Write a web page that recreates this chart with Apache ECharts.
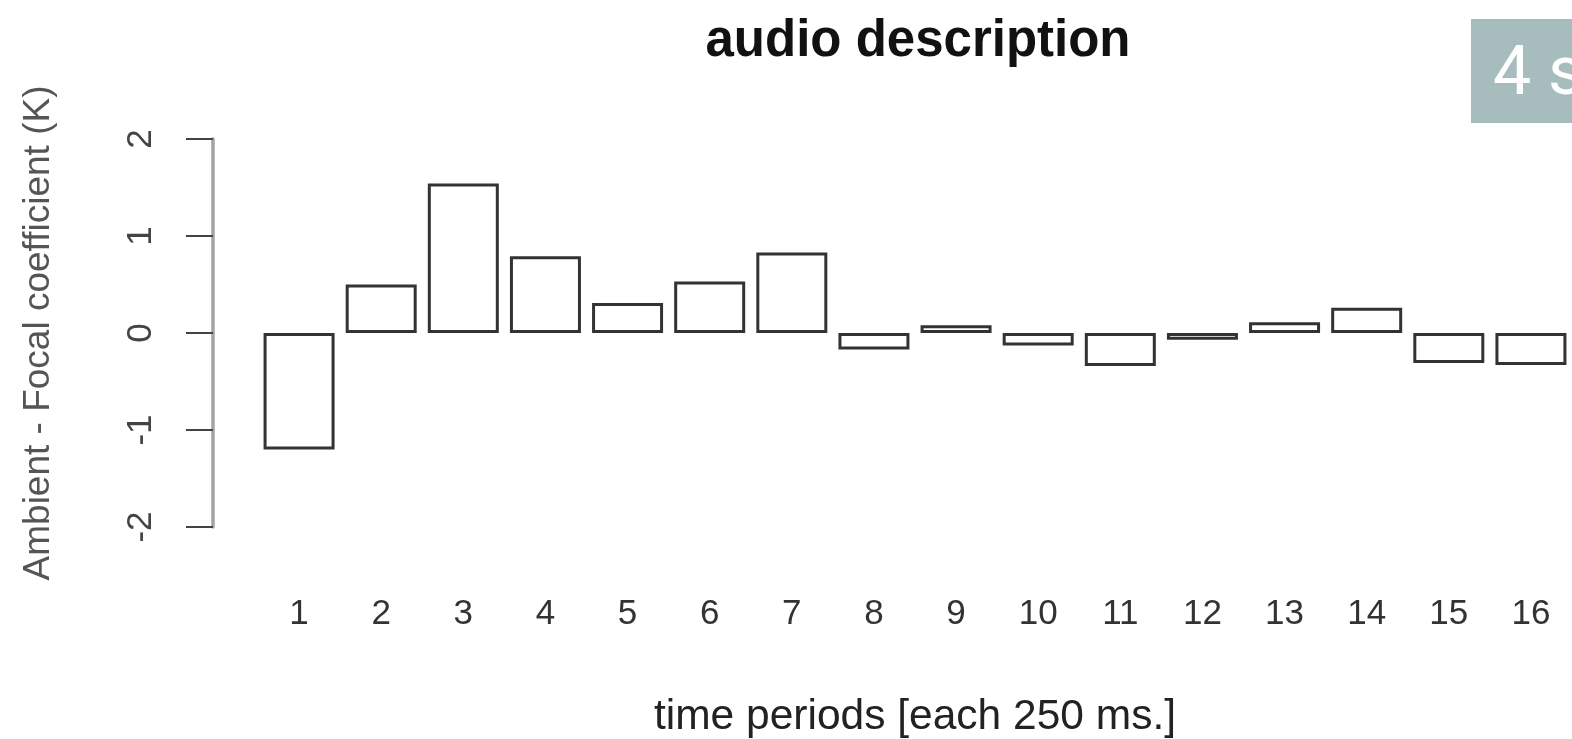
<!DOCTYPE html>
<html>
<head>
<meta charset="utf-8">
<title>audio description</title>
<script src="https://cdn.jsdelivr.net/npm/echarts@6/dist/echarts.min.js"></script>
<style>
  html, body { margin: 0; padding: 0; background: #fff; overflow: hidden; }
  #chart { width: 1572px; height: 739px; }
</style>
</head>
<body>
<div id="chart"></div>
<script>
// Time periods (each 250 ms) and the ambient-minus-focal coefficient per period
const periods = ['1', '2', '3', '4', '5', '6', '7', '8', '9', '10', '11', '12', '13', '14', '15', '16'];
const coefficients = [-1.20, 0.50, 1.54, 0.79, 0.31, 0.53, 0.83, -0.17, 0.08, -0.13, -0.34, -0.07, 0.11, 0.26, -0.31, -0.33];
const yTicks = [-2, -1, 0, 1, 2];

const FONT = '"Liberation Sans", Arial, Helvetica, sans-serif';

const chart = echarts.init(document.getElementById('chart'), null, { renderer: 'canvas' });

chart.setOption({
  backgroundColor: '#ffffff',
  animation: false,
  title: {
    text: 'audio description',
    left: 913,
    top: 11,
    textAlign: 'center',
    textStyle: { fontFamily: FONT, fontWeight: 'bold', fontSize: 51, color: '#111' }
  },
  // fixed plot box: the last bar runs right up to the canvas edge
  grid: { left: 258, right: 0, top: 139, bottom: 212, containLabel: false, outerBoundsMode: 'none' },
  xAxis: {
    type: 'category',
    data: periods,
    axisLine: { show: false, onZero: false },
    axisTick: { show: false },
    axisLabel: { margin: 70, fontFamily: FONT, fontSize: 35, color: '#333' },
    name: 'time periods [each 250 ms.]',
    nameLocation: 'middle',
    nameGap: 169,
    nameTextStyle: { fontFamily: FONT, fontSize: 42.5, color: '#222' }
  },
  yAxis: {
    type: 'value',
    min: yTicks[0],
    max: yTicks[yTicks.length - 1],
    interval: 1,
    offset: 45,
    axisLine: { show: true, lineStyle: { color: '#a3a3a3', width: 3.5 } },
    axisTick: { show: true, length: 27, lineStyle: { color: '#444', width: 2 } },
    splitLine: { show: false },
    axisLabel: { rotate: 90, margin: 54, fontFamily: FONT, fontSize: 35, color: '#444' },
    name: 'Ambient - Focal coefficient (K)',
    nameLocation: 'middle',
    nameGap: 156,
    nameTextStyle: { fontFamily: FONT, fontSize: 37, color: '#555' }
  },
  series: [{
    type: 'bar',
    data: coefficients,
    barWidth: 71,
    itemStyle: { color: '#ffffff', borderColor: '#333333', borderWidth: 3 }
  }],
  graphic: [
    { type: 'rect', left: 1471, top: 19, shape: { width: 101, height: 104 }, style: { fill: '#a7bcbc' } },
    { type: 'text', left: 1493, top: 43, style: { text: '4 s', fill: '#ffffff', font: '400 68px Roboto, "DejaVu Sans", sans-serif' } }
  ]
});
</script>
</body>
</html>
